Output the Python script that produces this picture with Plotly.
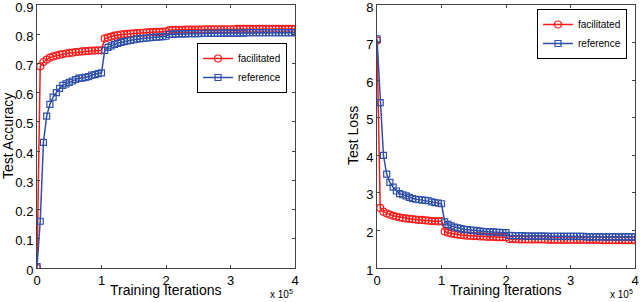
import plotly.graph_objects as go

iterations = list(range(0, 400001, 5000))

acc_facilitated = [
    0.0, 0.69, 0.705, 0.713, 0.72, 0.724, 0.727, 0.73, 0.732, 0.734,
    0.736, 0.737, 0.739, 0.740, 0.741, 0.742, 0.743, 0.744, 0.744, 0.745,
    0.745, 0.785, 0.789, 0.792, 0.795, 0.797, 0.799, 0.800, 0.801, 0.802,
    0.803, 0.804, 0.805, 0.805, 0.806, 0.807, 0.807, 0.808, 0.808, 0.809,
    0.809,
    0.814, 0.815, 0.815, 0.815, 0.815, 0.816, 0.816, 0.816, 0.816, 0.816,
    0.816, 0.817, 0.817, 0.817, 0.817, 0.817, 0.817, 0.817, 0.817, 0.817,
    0.817, 0.818, 0.818, 0.818, 0.818, 0.818, 0.818, 0.818, 0.818, 0.818,
    0.818, 0.818, 0.818, 0.818, 0.818, 0.818, 0.818, 0.818, 0.818, 0.818,
]
acc_reference = [
    0.005, 0.16, 0.43, 0.52, 0.56, 0.585, 0.60, 0.615, 0.625, 0.63,
    0.635, 0.64, 0.645, 0.65, 0.65, 0.652, 0.655, 0.66, 0.662, 0.665,
    0.668, 0.745, 0.755, 0.76, 0.765, 0.769, 0.772, 0.775, 0.777, 0.779,
    0.781, 0.783, 0.785, 0.786, 0.787, 0.788, 0.789, 0.790, 0.791, 0.792,
    0.793,
    0.799, 0.800, 0.800, 0.801, 0.801, 0.801, 0.802, 0.802, 0.802, 0.802,
    0.803, 0.803, 0.803, 0.803, 0.803, 0.803, 0.804, 0.804, 0.804, 0.804,
    0.804, 0.804, 0.804, 0.804, 0.805, 0.805, 0.805, 0.805, 0.805, 0.805,
    0.805, 0.805, 0.805, 0.805, 0.805, 0.805, 0.805, 0.805, 0.805, 0.805,
]
loss_facilitated = [
    7.05, 2.6, 2.5, 2.45, 2.42, 2.39, 2.37, 2.35, 2.33, 2.32,
    2.31, 2.30, 2.29, 2.28, 2.28, 2.27, 2.26, 2.25, 2.25, 2.24,
    2.25, 1.97, 1.94, 1.92, 1.90, 1.89, 1.88, 1.87, 1.86, 1.86,
    1.85, 1.85, 1.84, 1.84, 1.83, 1.83, 1.83, 1.82, 1.82, 1.82,
    1.82,
    1.77, 1.77, 1.77, 1.76, 1.76, 1.76, 1.76, 1.76, 1.76, 1.76,
    1.76, 1.76, 1.75, 1.75, 1.75, 1.75, 1.75, 1.75, 1.75, 1.75,
    1.75, 1.75, 1.75, 1.75, 1.75, 1.75, 1.75, 1.75, 1.75, 1.74,
    1.74, 1.74, 1.74, 1.74, 1.74, 1.74, 1.74, 1.74, 1.74, 1.74,
]
loss_reference = [
    7.1, 5.4, 4.0, 3.5, 3.28, 3.15, 3.05, 2.98, 2.95, 2.92,
    2.88, 2.85, 2.83, 2.82, 2.81, 2.80, 2.79, 2.76, 2.74, 2.73,
    2.71, 2.23, 2.16, 2.12, 2.09, 2.07, 2.05, 2.03, 2.02, 2.01,
    2.00, 1.99, 1.98, 1.97, 1.97, 1.96, 1.96, 1.95, 1.95, 1.94,
    1.94,
    1.87, 1.86, 1.86, 1.86, 1.86, 1.85, 1.85, 1.85, 1.85, 1.85,
    1.85, 1.85, 1.84, 1.84, 1.84, 1.84, 1.84, 1.84, 1.84, 1.84,
    1.84, 1.84, 1.84, 1.84, 1.83, 1.83, 1.83, 1.83, 1.83, 1.83,
    1.83, 1.83, 1.83, 1.83, 1.83, 1.83, 1.83, 1.83, 1.83, 1.83,
]

series_names = ["facilitated", "reference"]
x_tick_vals = [0, 100000, 200000, 300000, 400000]
x_tick_text = ["0", "1", "2", "3", "4"]
acc_ticks = [0, 0.1, 0.2, 0.3, 0.4, 0.5, 0.6, 0.7, 0.8, 0.9]
acc_tick_text = ["0", "0.1", "0.2", "0.3", "0.4", "0.5", "0.6", "0.7", "0.8", "0.9"]
loss_ticks = [1, 2, 3, 4, 5, 6, 7, 8]

RED = "#FF1A1A"
BLUE = "#2E4FAA"
FONT = "Liberation Sans, Arial, sans-serif"

fig = go.Figure()

def add(x, y, name, color, symbol, size, xa, ya, legend):
    fig.add_trace(go.Scatter(
        x=x, y=y, name=name, mode="lines+markers",
        line=dict(color=color, width=1.5),
        marker=dict(symbol=symbol, size=size, color=color, line=dict(color=color, width=1.2)),
        xaxis=xa, yaxis=ya, legend=legend,
    ))

add(iterations, acc_facilitated, series_names[0], RED, "circle-open", 7, "x", "y", "legend")
add(iterations, acc_reference, series_names[1], BLUE, "square-open", 6, "x", "y", "legend")
add(iterations, loss_facilitated, series_names[0], RED, "circle-open", 7, "x2", "y2", "legend2")
add(iterations, loss_reference, series_names[1], BLUE, "square-open", 6, "x2", "y2", "legend2")

axis_common = dict(
    showline=True, linecolor="#444444", linewidth=1, mirror="ticks",
    ticks="inside", ticklen=3, tickcolor="#444444", showgrid=False, zeroline=False,
    tickfont=dict(family=FONT, size=13, color="black"),
    automargin=False, ticklabeloverflow="allow",
)

ydom = [34 / 302, 297 / 302]
L1, R1 = 37 / 640, 295 / 640
L2, R2 = 377 / 640, 635 / 640
fig.update_layout(
    width=640, height=302,
    margin=dict(l=0, r=0, t=0, b=0),
    paper_bgcolor="white", plot_bgcolor="white",
    font=dict(family=FONT, color="black"),
    xaxis=dict(domain=[L1, R1], range=[0, 400000], tickvals=x_tick_vals,
               ticktext=x_tick_text, anchor="y", **axis_common),
    yaxis=dict(domain=ydom, range=[0, 0.9], tickvals=acc_ticks, ticktext=acc_tick_text,
               anchor="x", ticklabelshift=2, **axis_common),
    xaxis2=dict(domain=[L2, R2], range=[0, 400000], tickvals=x_tick_vals,
                ticktext=x_tick_text, anchor="y2", **axis_common),
    yaxis2=dict(domain=ydom, range=[1, 8], tickvals=loss_ticks, anchor="x2",
                ticklabelshift=2, **axis_common),
    legend=dict(x=287 / 640, y=1 - 43 / 302, xanchor="right", yanchor="top",
                bgcolor="white", bordercolor="black", borderwidth=1,
                font=dict(family=FONT, size=10), tracegroupgap=0, itemwidth=30),
    legend2=dict(x=627 / 640, y=1 - 9 / 302, xanchor="right", yanchor="top",
                 bgcolor="white", bordercolor="black", borderwidth=1,
                 font=dict(family=FONT, size=10), tracegroupgap=0, itemwidth=30),
    showlegend=True,
)

# axis titles
for xc in [(L1 + R1) / 2, (L2 + R2) / 2]:
    fig.add_annotation(text="Training Iterations", xref="paper", yref="paper",
                       x=xc, y=1 - 290 / 302, xanchor="center", yanchor="middle",
                       showarrow=False, font=dict(family=FONT, size=14, color="black"))
fig.add_annotation(text="Test Accuracy", xref="paper", yref="paper",
                   x=8 / 640, y=1 - 136 / 302, xanchor="center", yanchor="middle",
                   textangle=-90, showarrow=False, font=dict(family=FONT, size=14, color="black"))
fig.add_annotation(text="Test Loss", xref="paper", yref="paper",
                   x=353 / 640, y=1 - 136 / 302, xanchor="center", yanchor="middle",
                   textangle=-90, showarrow=False, font=dict(family=FONT, size=14, color="black"))

for xr in [R1, R2]:
    fig.add_annotation(text="x 10<sup>5</sup>", xref="paper", yref="paper",
                       x=xr, y=0, xanchor="right", yanchor="bottom",
                       showarrow=False, font=dict(family=FONT, size=10, color="black"))

fig.write_html("out.html", config={"displayModeBar": False},
               post_script="document.body.style.margin='0';")
